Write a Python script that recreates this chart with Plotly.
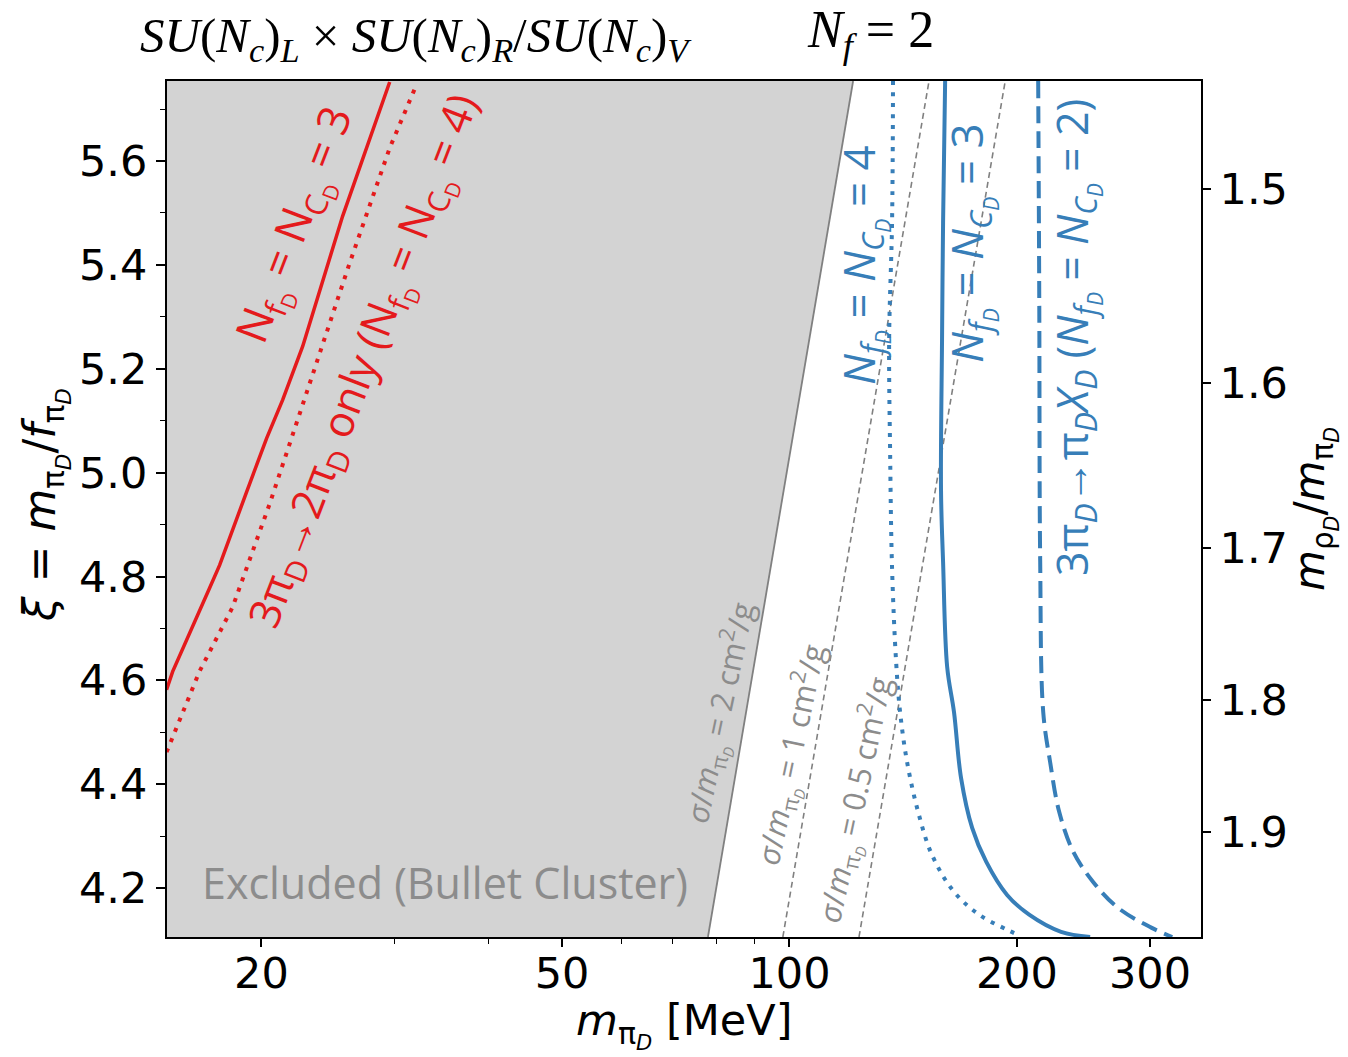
import math
import plotly.graph_objects as go

# ---------------- data ----------------
x_range = [15.0, 350.5]          # m_piD [MeV]
y_range = [4.106, 5.754]         # xi

# red solid: N_fD = N_CD = 3
red3_m = [14.98, 15.26, 17.08, 17.61, 19.12, 20.32, 21.34, 22.68, 25.62, 29.57]
red3_xi = [4.582, 4.617, 4.778, 4.822, 4.963, 5.066, 5.140, 5.243, 5.494, 5.752]

# red dotted: 3pi->2pi only (N_fD = N_CD = 4)
red4_m = [14.98, 16.57, 18.32, 20.51, 22.00, 23.67, 26.18, 29.57, 32.11]
red4_xi = [4.462, 4.618, 4.741, 4.940, 5.073, 5.213, 5.404, 5.625, 5.748]

# blue dotted: N_fD = N_CD = 4
blue4_m = [137.1, 136.7, 135.5, 135.9, 136.7, 138.4, 140.1, 143.1, 148.0, 154.4, 165.1, 178.2, 194.1, 200.7]
blue4_xi = [5.754, 5.481, 5.259, 5.038, 4.817, 4.636, 4.539, 4.443, 4.347, 4.264, 4.193, 4.149, 4.120, 4.110]

# blue solid: N_fD = N_CD = 3
blue3_m = [160.7, 159.7, 159.2, 158.7, 159.7, 161.7, 165.1, 168.7, 174.5, 182.1, 194.1, 207.6, 228.8, 250.0]
blue3_xi = [5.754, 5.481, 5.259, 4.965, 4.828, 4.626, 4.539, 4.412, 4.316, 4.251, 4.187, 4.149, 4.116, 4.106]

# blue dashed: 3pi -> pi X (N_fD = N_CD = 2)
blue2_m = [213.4, 214.1, 214.7, 216.7, 221.3, 227.5, 237.5, 252.3, 272.3, 301.2, 321.1]
blue2_xi = [5.754, 5.332, 4.832, 4.539, 4.443, 4.347, 4.270, 4.212, 4.162, 4.124, 4.106]

# sigma/m contours (2 cm^2/g = excluded boundary, 1, 0.5)
excl_m = [78.0, 121.4]
excl_xi = [4.106, 5.754]
sig1_m = [98.0, 153.0]
sig1_xi = [4.106, 5.754]
sig05_m = [123.6, 193.0]
sig05_xi = [4.106, 5.754]

# axis ticks
x_ticks = [20, 50, 100, 200, 300]
x_minor = [30, 40, 60, 70, 80, 90]
y_ticks = [4.2, 4.4, 4.6, 4.8, 5.0, 5.2, 5.4, 5.6]
rho_labels = ["1.5", "1.6", "1.7", "1.8", "1.9"]
rho_xi = [5.546, 5.173, 4.855, 4.562, 4.308]

RED = "#e41a1c"
BLUE = "#377eb8"
GRAY = "#808080"
TXTGRAY = "#8c8c8c"

fig = go.Figure()

# excluded region
fig.add_trace(go.Scatter(
    x=[x_range[0], excl_m[0], excl_m[1], x_range[0]],
    y=[excl_xi[0], excl_xi[0], excl_xi[1], excl_xi[1]],
    fill="toself", fillcolor="#d3d3d3", mode="lines",
    line=dict(width=0), hoverinfo="skip", showlegend=False))
fig.add_trace(go.Scatter(x=excl_m, y=excl_xi, mode="lines",
                         line=dict(color=GRAY, width=1.8), showlegend=False))
fig.add_trace(go.Scatter(x=sig1_m, y=sig1_xi, mode="lines",
                         line=dict(color=GRAY, width=1.6, dash="6px,4px"), showlegend=False))
fig.add_trace(go.Scatter(x=sig05_m, y=sig05_xi, mode="lines",
                         line=dict(color=GRAY, width=1.6, dash="6px,4px"), showlegend=False))

fig.add_trace(go.Scatter(x=red3_m, y=red3_xi, mode="lines",
                         line=dict(color=RED, width=3.5), showlegend=False))
fig.add_trace(go.Scatter(x=red4_m, y=red4_xi, mode="lines",
                         line=dict(color=RED, width=4, dash="4px,7px"), showlegend=False))
fig.add_trace(go.Scatter(x=blue4_m, y=blue4_xi, mode="lines", line_shape="spline",
                         line=dict(color=BLUE, width=4, dash="4px,7px"), showlegend=False))
fig.add_trace(go.Scatter(x=blue3_m, y=blue3_xi, mode="lines", line_shape="spline",
                         line=dict(color=BLUE, width=4), showlegend=False))
fig.add_trace(go.Scatter(x=blue2_m, y=blue2_xi, mode="lines", line_shape="spline",
                         line=dict(color=BLUE, width=4, dash="17px,8px"), showlegend=False))

# invisible trace for right axis
fig.add_trace(go.Scatter(x=[x_range[0]], y=[y_range[0]], yaxis="y2", mode="markers",
                         marker=dict(opacity=0), hoverinfo="skip", showlegend=False))

TICKFONT = dict(family="DejaVu Sans", size=43, color="black")

fig.update_layout(
    width=1348, height=1057,
    margin=dict(l=167, r=147, t=81, b=120),
    paper_bgcolor="white", plot_bgcolor="white",
    xaxis=dict(type="log", range=[math.log10(x_range[0]), math.log10(x_range[1])],
               tickvals=x_ticks, ticktext=[str(v) for v in x_ticks],
               ticks="outside", ticklen=8, tickwidth=1.5, tickcolor="black",
               ticklabelstandoff=-11,
               minor=dict(tickvals=x_minor, ticks="outside", ticklen=5, tickwidth=1.2, tickcolor="black"),
               showline=True, linecolor="black", linewidth=2, mirror=True,
               showgrid=False, zeroline=False, tickfont=TICKFONT),
    yaxis=dict(range=y_range, tickvals=y_ticks, ticktext=["%.1f" % v for v in y_ticks],
               ticks="outside", ticklen=9, tickwidth=1.5, tickcolor="black",
               minor=dict(dtick=0.1, tick0=4.1, ticks="outside", ticklen=5, tickwidth=1.2, tickcolor="black"),
               showline=True, linecolor="black", linewidth=2, mirror=True,
               showgrid=False, zeroline=False, tickfont=TICKFONT),
    yaxis2=dict(range=y_range, overlaying="y", side="right", anchor="x",
                tickvals=rho_xi, ticktext=rho_labels,
                ticks="outside", ticklen=9, tickwidth=1.5, tickcolor="black",
                showline=False, showgrid=False, zeroline=False, tickfont=TICKFONT),
)

def px2paper(px, py):
    return (px - 167) / 1034.0, (937 - py) / 856.0

def ann(px, py, text, size, color, angle=0, family="Open Sans"):
    x, y = px2paper(px, py)
    fig.add_annotation(x=x, y=y, xref="paper", yref="paper", text=text, showarrow=False,
                       textangle=angle, xanchor="center", yanchor="middle",
                       font=dict(family=family, size=size, color=color))

NfD = "N<sub>f<sub>D</sub></sub>"
NcD = "N<sub>C<sub>D</sub></sub>"
NfDi = "<i>N</i><sub><i>f</i><sub><i>D</i></sub></sub>"
NcDi = "<i>N</i><sub><i>C</i><sub><i>D</i></sub></sub>"

ann(297, 226, NfD + " = " + NcD + " = 3", 44, RED, -69)
ann(365, 362, "3π<sub>D</sub>→2π<sub>D</sub> only (" + NfD + " = " + NcD + " = 4)", 43, RED, -69)
ann(862, 265, NfDi + " = " + NcDi + " = 4", 44, BLUE, -90)
ann(970, 243, NfDi + " = " + NcDi + " = 3", 44, BLUE, -90)
ann(1075, 338, "3π<sub><i>D</i></sub>→π<sub><i>D</i></sub><i>X</i><sub><i>D</i></sub> (" + NfDi + " = " + NcDi + " = 2)", 43, BLUE, -90)

sig = "<i>σ</i>/<i>m</i><sub>π<sub><i>D</i></sub></sub>"
ann(720, 713, sig + " = 2 cm<sup>2</sup>/g", 31, TXTGRAY, -78)
ann(791, 755, sig + " = 1 cm<sup>2</sup>/g", 31, TXTGRAY, -78)
ann(855, 800, sig + " = 0.5 cm<sup>2</sup>/g", 31, TXTGRAY, -78)
ann(445, 882, "Excluded (Bullet Cluster)", 43, TXTGRAY, 0)

# titles
ann(416, 38, "<i>SU</i>(<i>N<sub>c</sub></i>)<sub><i>L</i></sub> × <i>SU</i>(<i>N<sub>c</sub></i>)<sub><i>R</i></sub>/<i>SU</i>(<i>N<sub>c</sub></i>)<sub><i>V</i></sub>",
    49, "black", 0, "Liberation Serif")
ann(870, 34, "<i>N<sub>f</sub></i> = 2", 52, "black", 0, "Liberation Serif")

# axis titles
ann(684, 1025, "<i>m</i><sub>π<sub><i>D</i></sub></sub> [MeV]", 43, "black", 0, "DejaVu Sans")
ann(45, 505, "<i>ξ</i> = <i>m</i><sub>π<sub><i>D</i></sub></sub>/<i>f</i><sub>π<sub><i>D</i></sub></sub>", 44, "black", -90, "DejaVu Sans")
ann(1314, 509, "<i>m</i><sub>ρ<sub><i>D</i></sub></sub>/<i>m</i><sub>π<sub><i>D</i></sub></sub>", 42, "black", -90, "DejaVu Sans")

fig.write_html("out.html")
